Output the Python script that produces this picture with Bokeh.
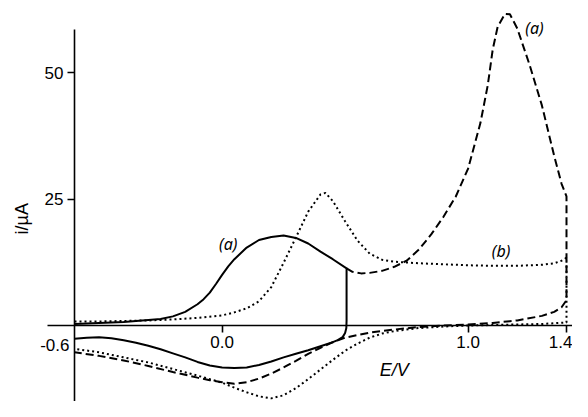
from bokeh.plotting import figure
from bokeh.models import Range1d, FixedTicker, NumeralTickFormatter, Label
from bokeh.embed import file_html
from bokeh.resources import INLINE
import math

# ---- data ----
# (a) solid: scan -0.6 -> 0.5 -> -0.6 V
E_a = [-0.6, -0.5, -0.4, -0.3, -0.25, -0.2, -0.15, -0.1, -0.075, -0.05, -0.025, 0.0, 0.025,
       0.05, 0.1, 0.15, 0.2, 0.25, 0.3, 0.35, 0.4, 0.45, 0.506,
       0.506, 0.505, 0.5, 0.49, 0.47, 0.45, 0.4, 0.35, 0.3, 0.25, 0.2, 0.15, 0.1, 0.05,
       0.0, -0.05, -0.1, -0.15, -0.2, -0.25, -0.3, -0.35, -0.4, -0.45, -0.5, -0.55, -0.6]
i_a = [0.3, 0.5, 0.7, 1.1, 1.3, 1.8, 2.7, 4.2, 5.2, 6.5, 8.2, 10.0, 11.7,
       13.1, 15.4, 16.9, 17.5, 17.8, 17.3, 16.2, 14.6, 13.1, 11.3,
       1.0, -0.5, -1.5, -2.3, -2.9, -3.3, -4.1, -4.9, -5.6, -6.3, -7.1, -7.8, -8.3, -8.4,
       -8.3, -7.9, -7.2, -6.3, -5.5, -4.7, -4.0, -3.4, -2.9, -2.5, -2.3, -2.4, -2.6]

# (a) dashed: continuation of the scan to 1.4 V and back to -0.6 V
E_a_ext = [0.506, 0.53, 0.565, 0.6, 0.65, 0.7, 0.75, 0.8, 0.85, 0.9, 0.95, 1.0, 1.05,
           1.08, 1.1, 1.12, 1.15, 1.17, 1.2, 1.25, 1.3, 1.35, 1.38, 1.4,
           1.4, 1.38, 1.35, 1.3, 1.2, 1.1, 1.0, 0.9, 0.8, 0.7, 0.6, 0.5, 0.45, 0.4, 0.35,
           0.3, 0.25, 0.2, 0.15, 0.1, 0.05, 0.0, -0.05, -0.1, -0.2, -0.3, -0.4, -0.5, -0.6]
i_a_ext = [11.3, 10.6, 10.3, 10.4, 10.8, 11.6, 12.8, 15.0, 18.0, 21.5, 25.5, 31.0, 40.0,
           47.5, 54.5, 59.0, 61.6, 61.5, 58.7, 51.5, 43.5, 33.5, 28.0, 25.5,
           5.0, 3.6, 2.7, 1.9, 1.0, 0.5, 0.2, 0.0, -0.3, -0.8, -1.4, -2.4, -3.3, -4.4, -5.6,
           -7.0, -8.3, -9.5, -10.5, -11.2, -11.5, -11.2, -10.8, -10.3, -9.2, -8.0, -6.9, -6.0, -5.3]

# (b) dotted: scan -0.6 -> 1.4 -> -0.6 V
E_b = [-0.6, -0.5, -0.4, -0.3, -0.2, -0.1, 0.0, 0.05, 0.1, 0.15, 0.2, 0.25, 0.3,
       0.35, 0.4, 0.42, 0.45, 0.5, 0.55, 0.6, 0.65, 0.7, 0.8, 0.9, 1.0, 1.1, 1.2, 1.3,
       1.35, 1.38, 1.4,
       1.4, 1.3, 1.2, 1.1, 1.0, 0.9, 0.8, 0.7, 0.65, 0.6, 0.55, 0.5, 0.45, 0.4, 0.35, 0.3,
       0.25, 0.2, 0.15, 0.1, 0.05, 0.0, -0.1, -0.2, -0.3, -0.4, -0.5, -0.6]
i_b = [0.8, 0.8, 0.9, 1.0, 1.2, 1.5, 2.0, 2.6, 3.4, 4.8, 7.6, 12.4, 17.4,
       22.5, 25.9, 26.2, 24.6, 20.6, 16.8, 14.2, 13.0, 12.6, 12.3, 12.1, 11.9, 11.8, 11.8, 12.0,
       12.3, 12.8, 13.4,
       0.6, 0.3, 0.2, 0.1, 0.0, -0.2, -0.5, -1.1, -1.6, -2.4, -3.6, -5.0, -6.8, -8.7, -10.6, -12.4,
       -13.8, -14.4, -14.0, -13.2, -12.3, -11.3, -9.9, -8.6, -7.3, -6.3, -5.3, -4.6]

# axis ticks
x_ticks = [0.0, 1.0, 1.4]
x_tick_labels = ["0.0", "1.0", "1.4"]
x_origin = -0.6
x_origin_label = "-0.6"
y_ticks = [25, 50]
y_tick_labels = ["25", "50"]

# curve labels
curve_labels = ["(a)", "(a)", "(b)"]
label_E = [0.025, 1.27, 1.134]
label_i = [16.1, 58.7, 14.8]

# ---- figure ----
p = figure(width=572, height=401,
           x_range=Range1d(-0.9008, 1.4244), y_range=Range1d(-15.02, 64.23),
           output_backend="svg", toolbar_location=None, min_border=0,
           outline_line_color=None, background_fill_color="white",
           border_fill_color="white")
p.grid.visible = False

tick_font = "Liberation Sans"
for ax in (p.xaxis[0], p.yaxis[0]):
    ax.axis_line_color = "black"
    ax.axis_line_width = 1.6
    ax.major_tick_line_color = "black"
    ax.major_tick_line_width = 1.6
    ax.major_tick_in = 0
    ax.major_tick_out = 7
    ax.minor_tick_line_color = None
    ax.major_label_text_font = tick_font
    ax.major_label_text_font_size = "17px"
    ax.major_label_text_color = "black"
    ax.major_label_standoff = 4

p.xaxis[0].fixed_location = 0
p.xaxis[0].bounds = (-0.71, 1.4244)
p.xaxis[0].ticker = FixedTicker(ticks=x_ticks)
p.xaxis[0].formatter = NumeralTickFormatter(format="0.0")
p.xaxis[0].major_label_overrides = dict(zip(x_ticks, x_tick_labels))

p.yaxis[0].fixed_location = x_origin
p.yaxis[0].bounds = (-15.02, 58.5)
p.yaxis[0].ticker = FixedTicker(ticks=y_ticks)
p.yaxis[0].major_label_overrides = dict(zip(y_ticks, y_tick_labels))

# curves
p.line(E_a, i_a, line_color="black", line_width=2)
p.line(E_a_ext, i_a_ext, line_color="black", line_width=2, line_dash="8 4")
p.line(E_b, i_b, line_color="black", line_width=2, line_dash="2 3")

# origin tick label (-0.6 sits left of the y axis)
p.add_layout(Label(x=x_origin, y=0, x_offset=-5, y_offset=-20, text=x_origin_label,
                   text_align="right", text_baseline="middle",
                   text_font=tick_font, text_font_size="17px", text_color="black"))

# axis titles
p.add_layout(Label(x=0.7, y=0, y_offset=-45, text="E/V",
                   text_align="center", text_baseline="middle",
                   text_font=tick_font, text_font_style="italic",
                   text_font_size="18px", text_color="black"))
p.add_layout(Label(x=x_origin, y=21.1, x_offset=-52, text="i/µA", angle=math.pi / 2,
                   text_align="center", text_baseline="middle",
                   text_font=tick_font, text_font_size="18px", text_color="black"))

for t, ex, iy in zip(curve_labels, label_E, label_i):
    p.add_layout(Label(x=ex, y=iy, text=t, text_align="center", text_baseline="middle",
                       text_font="Noto Sans", text_font_style="italic",
                       text_font_size="16px", text_color="black"))

open("out.html", "w").write(file_html(p, INLINE))
